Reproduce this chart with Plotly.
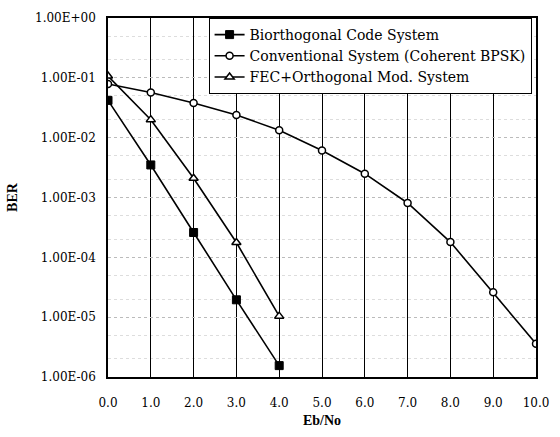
import plotly.graph_objects as go

ebno = [0.0, 1.0, 2.0, 3.0, 4.0, 5.0, 6.0, 7.0, 8.0, 9.0, 10.0]
bio_x = [0.0, 1.0, 2.0, 3.0, 4.0]
bio_ber = [0.042, 0.0035, 2.6e-4, 1.95e-5, 1.55e-6]
conv_ber = [0.079, 0.057, 0.038, 0.024, 0.0133, 0.0061, 0.0025, 8.1e-4, 1.8e-4, 2.6e-5, 3.6e-6]
fec_x = [0.0, 1.0, 2.0, 3.0, 4.0]
fec_ber = [0.107, 0.020, 0.0021, 1.77e-4, 1.04e-5]

ytick_vals = [1, 1e-1, 1e-2, 1e-3, 1e-4, 1e-5, 1e-6]
ytick_text = ["1.00E+00", "1.00E-01", "1.00E-02", "1.00E-03", "1.00E-04", "1.00E-05", "1.00E-06"]
xtick_vals = [0, 1, 2, 3, 4, 5, 6, 7, 8, 9, 10]
xtick_text = ["0.0", "1.0", "2.0", "3.0", "4.0", "5.0", "6.0", "7.0", "8.0", "9.0", "10.0"]

FONT = "DejaVu Serif"
TFONT = "Liberation Serif"

fig = go.Figure()
fig.add_trace(go.Scatter(
    x=bio_x, y=bio_ber, mode="lines+markers", name="Biorthogonal Code System",
    line=dict(color="black", width=1.6),
    marker=dict(symbol="square", size=8, color="black", line=dict(color="black", width=1))))
fig.add_trace(go.Scatter(
    x=ebno, y=conv_ber, mode="lines+markers", name="Conventional System (Coherent BPSK)",
    line=dict(color="black", width=1.6),
    marker=dict(symbol="circle", size=7, color="white", line=dict(color="black", width=1.5))))
fig.add_trace(go.Scatter(
    x=fec_x, y=fec_ber, mode="lines+markers", name="FEC+Orthogonal Mod. System",
    line=dict(color="black", width=1.6),
    marker=dict(symbol="triangle-up", size=8, color="white", line=dict(color="black", width=1.5))))

fig.update_layout(
    width=560, height=437,
    margin=dict(l=107, r=15, t=11, b=55),
    paper_bgcolor="white", plot_bgcolor="white",
    font=dict(family=FONT, size=12, color="black"),
    showlegend=True,
    legend=dict(x=0.235, y=1.0, xanchor="left", yanchor="top",
                bgcolor="white", bordercolor="black", borderwidth=1,
                font=dict(family=FONT, size=14), tracegroupgap=0,
                itemwidth=30),
)
fig.update_xaxes(
    range=[0, 10], tickvals=xtick_vals, ticktext=xtick_text,
    showgrid=True, gridcolor="black", gridwidth=1.2,
    showline=True, linecolor="black", linewidth=1.5, mirror=True,
    ticks="", ticklabelstandoff=14,
    title=dict(text="<b>Eb/No</b>", font=dict(family=TFONT, size=14), standoff=6),
    zeroline=False)
fig.update_yaxes(
    type="log", range=[-6, 0], tickvals=ytick_vals, ticktext=ytick_text,
    showgrid=True, gridcolor="#bbbbbb", gridwidth=1, griddash="dot",
    minor=dict(showgrid=True, gridcolor="#dddddd", griddash="dot", gridwidth=1),
    showline=True, linecolor="black", linewidth=1.5, mirror=True,
    ticks="", ticklabelstandoff=8,
    title=dict(text="<b>BER</b>", font=dict(family=TFONT, size=14), standoff=14),
    zeroline=False)

fig.write_html("out.html")
